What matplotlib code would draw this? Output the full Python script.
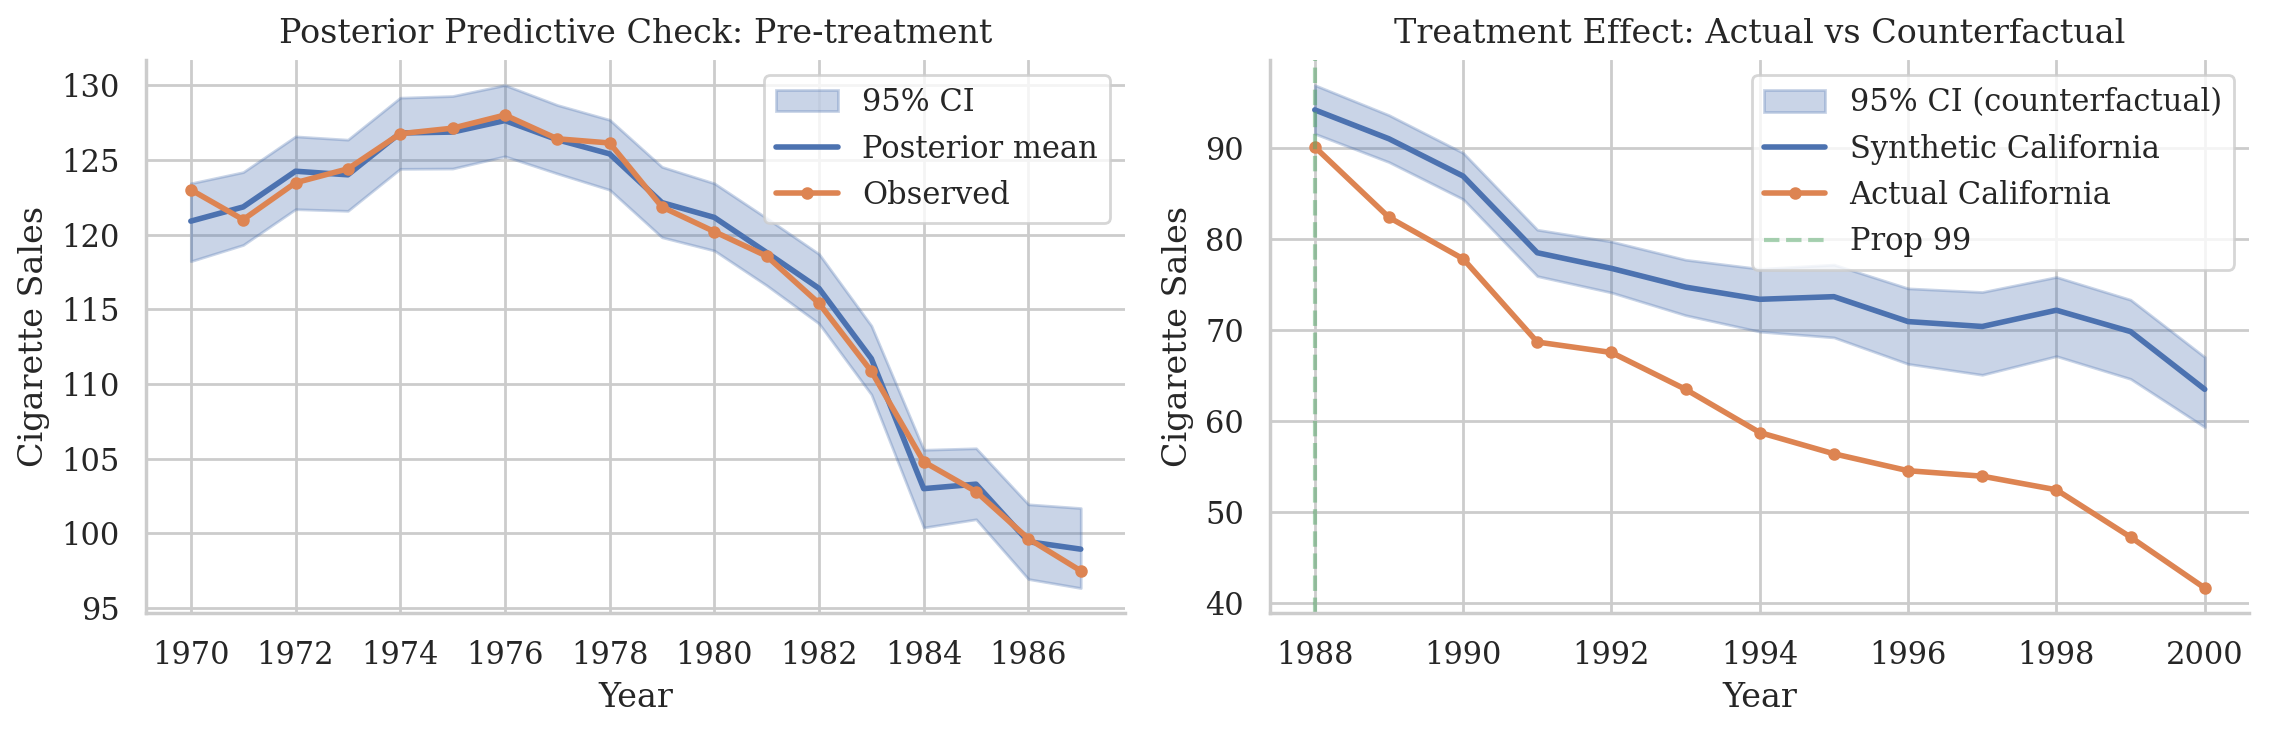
import matplotlib
matplotlib.use("Agg")
import matplotlib.pyplot as plt
import numpy as np
import seaborn as sns

# pre-treatment period
pre_years = np.arange(1970, 1988)
post_mean = [120.9, 121.85, 124.24, 124.0, 126.8, 126.86, 127.63, 126.35, 125.4,
             122.14, 121.15, 118.8, 116.4, 111.7, 103.0, 103.3, 99.45, 98.95]
post_upper = [123.43, 124.18, 126.57, 126.35, 129.16, 129.27, 130.0, 128.67, 127.68,
              124.53, 123.43, 121.1, 118.7, 113.9, 105.6, 105.7, 101.95, 101.7]
post_lower = [118.22, 119.31, 121.7, 121.59, 124.4, 124.42, 125.24, 124.09, 123.0,
              119.82, 118.93, 116.6, 114.05, 109.3, 100.4, 100.95, 96.95, 96.35]
observed = [123.0, 121.0, 123.47, 124.4, 126.75, 127.12, 128.0, 126.41, 126.13,
            121.85, 120.2, 118.56, 115.4, 110.85, 104.8, 102.8, 99.65, 97.5]

# post-treatment period
post_years = np.arange(1988, 2001)
synthetic = [94.18, 91.0, 86.9, 78.47, 76.75, 74.69, 73.35, 73.64, 70.9, 70.36,
             72.15, 69.8, 63.45]
cf_upper = [96.9, 93.6, 89.45, 81.0, 79.7, 77.7, 76.7, 77.16, 74.55, 74.15,
            75.8, 73.3, 67.0]
cf_lower = [91.56, 88.44, 84.36, 75.9, 74.1, 71.6, 69.8, 69.16, 66.25, 65.05,
            67.1, 64.6, 59.3]
actual = [90.1, 82.36, 77.8, 68.65, 67.5, 63.45, 58.7, 56.36, 54.5, 53.9,
          52.4, 47.2, 41.6]
treatment_year = 1988

sns.set_theme(style="whitegrid", font="serif")
pal = sns.color_palette()

fig, axes = plt.subplots(1, 2, figsize=(11.35, 3.66), dpi=200)

ax = axes[0]
ax.fill_between(pre_years, post_lower, post_upper, color=pal[0], alpha=0.3, label="95% CI")
ax.plot(pre_years, post_mean, color=pal[0], lw=2, label="Posterior mean")
ax.plot(pre_years, observed, "o-", color=pal[1], lw=2, ms=3.5, label="Observed")
ax.set_title("Posterior Predictive Check: Pre-treatment")
ax.set_xlabel("Year")
ax.set_ylabel("Cigarette Sales")
ax.set_xticks(np.arange(1970, 1988, 2))
ax.legend(loc="upper right")

ax = axes[1]
ax.fill_between(post_years, cf_lower, cf_upper, color=pal[0], alpha=0.3,
                label="95% CI (counterfactual)")
ax.plot(post_years, synthetic, color=pal[0], lw=2, label="Synthetic California")
ax.plot(post_years, actual, "o-", color=pal[1], lw=2, ms=3.5, label="Actual California")
ax.axvline(treatment_year, color=pal[2], ls="--", alpha=0.5, label="Prop 99")
ax.set_title("Treatment Effect: Actual vs Counterfactual")
ax.set_xlabel("Year")
ax.set_ylabel("Cigarette Sales")
ax.set_xticks(np.arange(1988, 2001, 2))
ax.legend(loc="upper right")

sns.despine()
plt.tight_layout(pad=0.55, w_pad=1.1)
plt.savefig("out.png", dpi=200)
